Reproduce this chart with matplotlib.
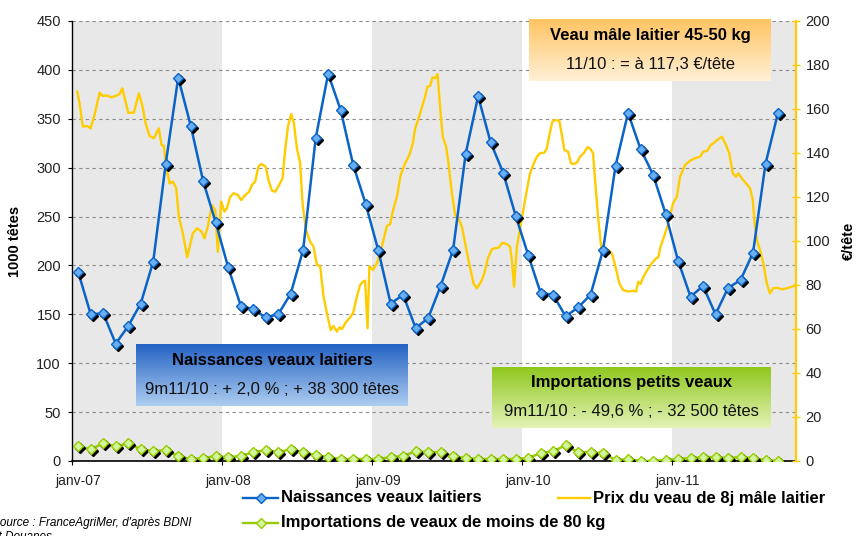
import numpy as np
import matplotlib
matplotlib.use("Agg")
import matplotlib.pyplot as plt
from matplotlib.colors import LinearSegmentedColormap
from matplotlib.lines import Line2D
from matplotlib.transforms import offset_copy

plt.rcParams.update({
    "font.family": ["Liberation Sans", "DejaVu Sans"],
    "axes.unicode_minus": False,
})

# ── données ───────────────────────────────────────────────────────
YEAR_LABELS = ["janv-07", "janv-08", "janv-09", "janv-10", "janv-11"]

# naissances veaux laitiers (1000 têtes), mensuel janv-07 -> sept-11
NAISSANCES = [
    193, 150, 151, 120, 138, 161, 204, 304, 392, 343, 286, 244,
    198, 159, 155, 147, 150, 171, 216, 330, 396, 359, 303, 263,
    216, 161, 170, 136, 146, 179, 216, 314, 373, 326, 295, 251,
    211, 172, 170, 148, 157, 170, 216, 302, 356, 319, 293, 253,
    205, 168, 179, 150, 177, 185, 213, 304, 356,
]

# importations de veaux de moins de 80 kg (1000 têtes)
IMPORTS = [
    15, 12, 18, 15, 18, 12, 10, 11, 5, 2, 3, 5,
    4, 5, 9, 11, 9, 12, 9, 6, 4, 2, 2, 2,
    2, 4, 5, 10, 9, 9, 5, 3, 2, 2, 2, 2,
    3, 8, 10, 16, 9, 9, 8, 1, 2, 0, 0, 1,
    2, 3, 4, 4, 3, 4, 3, 1, 0,
]

# prix du veau de 8j mâle laitier (€/tête), relevés hebdo (mois depuis janv-07)
PRICE_T = [
    -0.08, 0.10, 0.37, 0.72, 0.99, 1.33, 1.71, 1.97, 2.24, 2.67, 2.99, 3.31,
    3.52, 3.79, 4.00, 4.45, 4.85, 5.12, 5.39, 5.71, 6.05, 6.45, 6.67, 6.85,
    7.04, 7.31, 7.57, 7.84, 8.05, 8.37, 8.72, 9.17, 9.52, 9.87, 10.10, 10.37,
    10.69, 10.96, 11.17, 11.44, 11.70, 11.90, 12.16, 12.43, 12.78, 13.04, 13.36, 13.68,
    13.90, 14.16, 14.42, 14.64, 15.00, 15.22, 15.50, 15.76, 16.08, 16.35, 16.56, 16.78,
    17.04, 17.26, 17.50, 17.76, 17.95, 18.22, 18.56, 18.83, 19.10, 19.36, 19.63, 19.90,
    20.20, 20.42, 20.70, 20.90, 21.10, 21.44, 21.76, 22.00, 22.30, 22.56, 22.78, 22.96,
    23.15, 23.30, 23.57, 23.90, 24.16, 24.43, 24.70, 24.96, 25.20, 25.50, 25.80, 26.16,
    26.50, 26.78, 26.96, 27.20, 27.50, 27.76, 27.94, 28.16, 28.35, 28.56, 28.75, 29.00,
    29.17, 29.44, 29.63, 29.90, 30.16, 30.43, 30.70, 30.96, 31.28, 31.63, 31.90, 32.24,
    32.50, 32.78, 33.10, 33.36, 33.68, 33.94, 34.30, 34.56, 34.70, 34.88, 35.10, 35.36,
    35.60, 35.90, 36.16, 36.40, 36.70, 36.96, 37.30, 37.50, 37.76, 37.94, 38.16, 38.50,
    38.70, 38.90, 39.20, 39.44, 39.63, 39.90, 40.16, 40.48, 40.74, 40.96, 41.20, 41.36,
    41.60, 41.90, 42.16, 42.43, 42.70, 42.96, 43.30, 43.60, 44.00, 44.40, 44.64, 44.82,
    45.00, 45.23, 45.54, 45.90, 46.24, 46.42, 46.60, 46.88, 47.14, 47.42, 47.60, 47.90,
    48.16, 48.56, 48.96, 49.36, 49.76, 50.02, 50.34, 50.62, 50.88, 51.14, 51.50, 51.84,
    52.10, 52.38, 52.64, 52.82, 53.10, 53.44, 53.76, 53.98, 54.16, 54.30, 54.56, 54.82,
    55.10, 55.36, 55.62, 55.94, 56.30, 56.70, 57.10, 57.28,
]
PRICE = [
    167.9, 162.6, 152.0, 152.3, 151.2, 158.0, 167.4, 165.9, 166.2, 165.3, 165.9, 166.8,
    169.4, 163.3, 158.3, 158.3, 167.1, 161.8, 153.5, 147.7, 146.7, 151.2, 143.6, 143.2,
    133.8, 126.2, 127.0, 124.0, 111.0, 103.5, 92.6, 103.5, 105.8, 104.2, 101.2, 106.5,
    116.4, 114.1, 95.1, 117.9, 113.3, 114.9, 120.1, 121.7, 120.9, 118.6, 120.9, 122.4,
    125.5, 127.0, 133.8, 135.0, 133.8, 127.7, 122.9, 122.4, 125.5, 128.5, 141.4, 152.0,
    157.7, 153.5, 142.1, 135.3, 117.1, 105.0, 99.7, 97.4, 89.1, 88.6, 74.7, 67.1,
    59.5, 61.4, 58.8, 60.8, 59.9, 63.3, 65.3, 67.4, 74.7, 80.0, 81.5, 82.0,
    60.3, 88.6, 86.8, 89.9, 94.4, 100.5, 106.8, 107.7, 114.1, 120.1, 130.0, 135.3,
    139.1, 144.4, 151.2, 155.0, 160.8, 165.6, 170.1, 170.5, 174.4, 174.0, 175.9, 158.0,
    147.4, 142.9, 135.3, 121.7, 111.8, 110.3, 106.5, 99.0, 89.9, 80.8, 78.5, 81.5,
    85.3, 92.1, 96.2, 96.7, 97.1, 99.2, 98.6, 97.4, 91.4, 79.2, 97.4, 105.8,
    113.3, 123.2, 130.8, 134.5, 138.3, 139.9, 140.1, 142.1, 149.7, 154.2, 155.0, 154.7,
    148.2, 141.4, 140.6, 135.3, 135.0, 135.6, 138.3, 140.1, 142.6, 142.1, 139.9, 127.7,
    111.0, 94.4, 94.7, 95.9, 94.4, 89.1, 80.8, 77.7, 77.0, 77.4, 77.0, 81.5,
    80.5, 83.8, 86.8, 89.9, 92.1, 92.6, 97.4, 102.0, 106.5, 112.9, 117.1, 120.1,
    129.2, 134.5, 136.5, 137.6, 138.3, 140.6, 141.0, 143.6, 144.7, 145.9, 147.4, 143.6,
    139.9, 130.8, 129.2, 130.8, 128.5, 126.2, 124.0, 118.6, 106.5, 100.5, 95.9, 89.9,
    80.8, 76.2, 78.5, 78.8, 78.0, 78.5, 79.2, 79.7,
]

BLUE, BLUE_FACE = "#0A64C8", "#6AAEF2"
GREEN, GREEN_FACE = "#99CC00", "#D2F5A0"
YELLOW = "#FFCC00"
W, H = 856, 536

months = np.arange(len(NAISSANCES))

fig = plt.figure(figsize=(W / 100, H / 100), dpi=100)
ax = fig.add_axes([72 / W, 1 - 461 / H, 724 / W, 440 / H])
ax.set_xlim(-0.48, 57.44)
ax.set_ylim(0, 450)

# bandes grises une année sur deux
for start in (0, 24, 48):
    ax.axvspan(start - 0.5, start + 11.5, color="#E8E8E8", lw=0, zorder=0)

ax.set_yticks(np.arange(0, 451, 50))
ax.yaxis.grid(True, linestyle=(0, (3, 3)), color="#8C8C8C", lw=0.8)
ax.set_axisbelow(True)
ax.tick_params(axis="y", direction="out", length=3, width=0.8, pad=5,
               labelsize=10.5, labelcolor="#222222")
ax.set_xticks(np.arange(-0.5, 57, 12))
ax.set_xticklabels([])
ax.set_xticks(np.arange(0, 57, 12), minor=True)
ax.set_xticklabels(YEAR_LABELS, minor=True)
ax.tick_params(axis="x", which="major", direction="out", length=3, width=0.8)
ax.tick_params(axis="x", which="minor", length=0, pad=9, labelsize=10,
               labelcolor="#222222")
for s in ("top", "right"):
    ax.spines[s].set_visible(False)
ax.spines["left"].set_linewidth(1.0)
ax.spines["bottom"].set_linewidth(1.2)
ax.set_ylabel("1000 têtes", fontsize=10.5, fontweight="bold", labelpad=10)

# axe prix à droite
axp = ax.twinx()
axp.set_ylim(0, 200)
axp.set_yticks(np.arange(0, 201, 20))
axp.tick_params(axis="y", direction="inout", length=6, width=1, color=YELLOW,
                pad=4, labelsize=10.5, labelcolor="#222222")
for s in ("top", "left", "bottom"):
    axp.spines[s].set_visible(False)
axp.spines["right"].set_color(YELLOW)
axp.spines["right"].set_linewidth(1.6)
axp.plot(PRICE_T, PRICE, color=YELLOW, lw=1.7, zorder=2)
axp.set_ylabel("€/tête", fontsize=10.5, fontweight="bold", labelpad=8)

# séries en têtes au premier plan
axs = ax.twinx()
axs.set_ylim(0, 450)
axs.axis("off")
shadow = offset_copy(axs.transData, fig=fig, x=2, y=-2, units="dots")
for vals, col, face in ((IMPORTS, GREEN, GREEN_FACE), (NAISSANCES, BLUE, BLUE_FACE)):
    axs.plot(months, vals, color=col, lw=1.8, zorder=3)
    axs.plot(months, vals, ls="none", marker="D", ms=5, color="black",
             transform=shadow, zorder=4)
    axs.plot(months, vals, ls="none", marker="D", ms=5, mfc=face, mec=col,
             mew=1, zorder=5)


# ── encadrés en dégradé ──────────────────────────────────────────
def grad_box(x0, y0, x1, y1, top, bottom, title, sub):
    bx = fig.add_axes([x0 / W, 1 - y1 / H, (x1 - x0) / W, (y1 - y0) / H])
    cmap = LinearSegmentedColormap.from_list("g", [bottom, top])
    bx.imshow(np.linspace(0, 1, 100)[:, None], cmap=cmap, aspect="auto",
              extent=[0, 1, 0, 1], origin="lower")
    bx.axis("off")
    bx.text(0.5, 0.74, title, ha="center", va="center", fontsize=12,
            fontweight="bold", color="black", transform=bx.transAxes)
    bx.text(0.5, 0.27, sub, ha="center", va="center", fontsize=12,
            color="#111111", transform=bx.transAxes)


grad_box(529, 19, 771, 81, "#FFC462", "#FFF0D6",
         "Veau mâle laitier 45-50 kg", "11/10 : = à 117,3 €/tête")
grad_box(136, 344, 408, 406, "#2462C4", "#ADCDF0",
         "Naissances veaux laitiers", "9m11/10 : + 2,0 % ; + 38 300 têtes")
grad_box(492, 367, 771, 428, "#8EC71C", "#E3F2B6",
         "Importations petits veaux", "9m11/10 : - 49,6 % ; - 32 500 têtes")

# ── légende manuelle ─────────────────────────────────────────────
def fx(px):
    return px / W


def fy(py):
    return 1 - py / H


for y, col, face, label in ((498, BLUE, BLUE_FACE, "Naissances veaux laitiers"),
                            (523, GREEN, GREEN_FACE,
                             "Importations de veaux de moins de 80 kg")):
    fig.add_artist(Line2D([fx(243), fx(278)], [fy(y), fy(y)], color=col, lw=1.7))
    fig.add_artist(Line2D([fx(260.5)], [fy(y)], ls="none", marker="D", ms=5,
                          mfc=face, mec=col, mew=1))
    fig.text(fx(281), fy(y), label, fontsize=12, fontweight="bold",
             va="center", ha="left")
fig.add_artist(Line2D([fx(558), fx(590)], [fy(498), fy(498)], color=YELLOW, lw=1.7))
fig.text(fx(593), fy(498), "Prix du veau de 8j mâle laitier", fontsize=12,
         fontweight="bold", va="center", ha="left")

# source : coupée au bord gauche comme sur l'original
fig.text(fx(-8), fy(523), "Source : FranceAgriMer, d'après BDNI", fontsize=8.5,
         style="italic", va="center", ha="left")
fig.text(fx(-8), fy(537), "et Douanes", fontsize=8.5, style="italic",
         va="center", ha="left")

fig.savefig("out.png", dpi=100)
